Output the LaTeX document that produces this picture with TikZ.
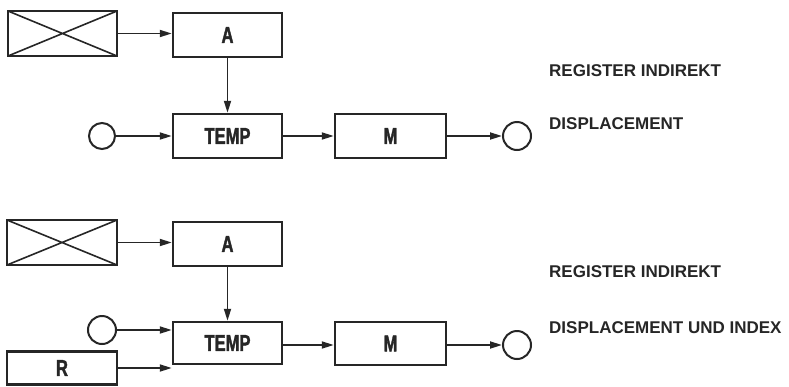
\documentclass[tikz,border=0pt]{standalone}
\usepackage{fontspec}
\setmainfont{Liberation Sans}
\newfontfamily\condfont{Liberation Sans}[FakeStretch=0.72,FakeBold=1.5]
\usetikzlibrary{arrows.meta,calc}
\definecolor{ink}{HTML}{262626}
\begin{document}
\begin{tikzpicture}[x=1pt,y=-1pt,
  box/.style={draw=ink,line width=2.5pt,rectangle,minimum width=109pt,minimum height=44pt,inner sep=0pt,
    font=\condfont\bfseries\fontsize{23}{25}\selectfont,text=ink},
  crossbox/.style={box,path picture={\draw[ink,line width=1.6pt]
    (path picture bounding box.north west) -- (path picture bounding box.south east)
    (path picture bounding box.south west) -- (path picture bounding box.north east);}},
  ring/.style={draw=ink,line width=2pt,circle,minimum size=27pt,inner sep=0pt},
  conn/.style={draw=ink,line width=1.8pt,-{Triangle[length=12pt,width=7pt]}},
  lbl/.style={anchor=west,inner sep=0pt,text=ink,font=\bfseries\fontsize{17}{19}\selectfont}]
\useasboundingbox[fill=white] (0,0) rectangle (789,386);
% top diagram
\node[crossbox,minimum height=45pt] (X1) at (62.5,33.5) {};
\node[box] (A1) at (227.5,35) {A};
\node[box] (T1) at (227.5,136) {TEMP};
\node[box,minimum width=111pt] (M1) at (390.5,136) {M};
\node[ring,minimum size=26pt] (CL1) at (102,136) {};
\node[ring,minimum size=28pt] (CR1) at (517,136) {};
\draw[conn] (X1.east) -- (X1.east -| A1.west);
\draw[conn] (A1) -- (T1);
\draw[conn] (CL1) -- (CL1 -| T1.west);
\draw[conn] (T1) -- (M1);
\draw[conn] (M1.east) -- (CR1);
\node[lbl] (L1) at (549,71) {REGISTER INDIREKT};
\node[lbl] (L2) at (549,124) {DISPLACEMENT};
% bottom diagram
\node[crossbox,minimum width=110pt,minimum height=45pt] (X2) at (62,242.5) {};
\node[box] (A2) at (227.5,244) {A};
\node[box,minimum height=42pt] (T2) at (227.5,343) {TEMP};
\node[box,minimum width=111pt,minimum height=43pt] (M2) at (390.5,343.5) {M};
\node[ring,minimum size=28pt] (CL2) at (102,330) {};
\node[box,minimum width=110pt,minimum height=33pt] (R2) at (62,368) {R};
\node[ring,minimum size=28pt] (CR2) at (517,345) {};
\draw[conn] (X2.east) -- (X2.east -| A2.west);
\draw[conn] (A2) -- (T2);
\draw[conn] (CL2) -- (CL2 -| T2.west);
\draw[conn] (R2.east) -- (R2.east -| T2.west);
\draw[conn] (M2.east |- CR2) -- (CR2);
\draw[conn] (T2.east |- CR2) -- (M2.west |- CR2);
\node[lbl] (L3) at (549,272) {REGISTER INDIREKT};
\node[lbl] (L4) at (549,328) {DISPLACEMENT UND INDEX};
\end{tikzpicture}
\end{document}
